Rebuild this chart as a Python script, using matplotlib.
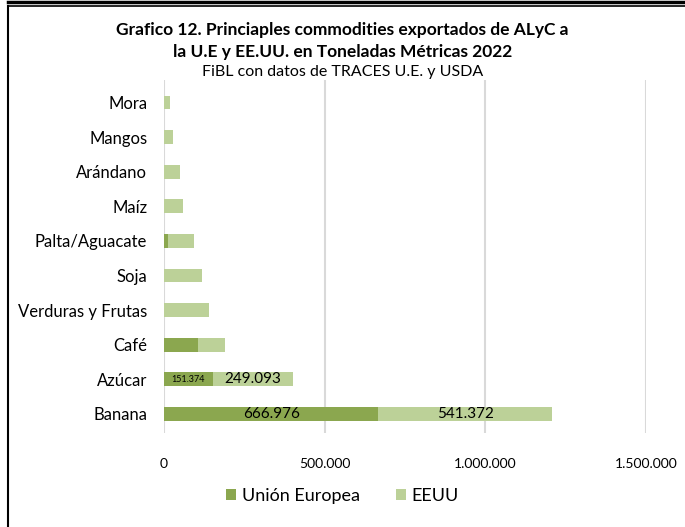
"""
Grafico 12 - commodities exportados de ALyC a la U.E y EE.UU. (2022)
"""

import matplotlib.pyplot as plt
from matplotlib.lines import Line2D

plt.rcParams['font.family'] = ['Lato', 'DejaVu Sans']

# Data (toneladas metricas)
categorias = ['Banana', 'Azúcar', 'Café', 'Verduras y Frutas', 'Soja',
              'Palta/Aguacate', 'Maíz', 'Arándano', 'Mangos', 'Mora']
ue = [666976, 151374, 107000, 0, 0, 11000, 0, 0, 0, 0]
eeuu = [541372, 249093, 83000, 140000, 119000, 83000, 58000, 49000, 28000, 19000]
ticks = [0, 500000, 1000000, 1500000]
tick_labels = ['0', '500.000', '1.000.000', '1.500.000']

# Colors
c_ue = '#8BA74F'
c_us = '#BCD198'
grid_gray = '#D9D9D9'

W, H = 685, 527
fig = plt.figure(figsize=(W / 100, H / 100), dpi=100)
ax = fig.add_axes([164 / W, 1 - 433 / H, (646 - 164) / W, (433 - 80) / H])

y = range(len(categorias))
ax.barh(y, ue, height=0.4, color=c_ue, label='Unión Europea')
ax.barh(y, eeuu, left=ue, height=0.4, color=c_us, label='EEUU')

# data labels on the big bars
ax.text(ue[0] / 2, 0, '666.976', ha='center', va='center', fontsize=11)
ax.text(ue[0] + eeuu[0] / 2, 0, '541.372', ha='center', va='center', fontsize=11)
ax.text(ue[1] / 2, 1, '151.374', ha='center', va='center', fontsize=6.5)
ax.text(ue[1] + eeuu[1] / 2, 1, '249.093', ha='center', va='center', fontsize=11)

ax.set_xlim(0, 1500000)
ax.set_ylim(-0.55, len(categorias) - 0.35)
ax.set_yticks(list(y))
ax.set_yticklabels(categorias, fontsize=12)
ax.set_xticks(ticks)
ax.set_xticklabels(tick_labels, fontsize=10)
ax.tick_params(length=0)
ax.tick_params(axis='y', pad=12)
ax.tick_params(axis='x', pad=18)
ax.grid(axis='x', color=grid_gray, linewidth=1.5)
ax.set_axisbelow(True)
for s in ax.spines.values():
    s.set_visible(False)

# Titles
fig.text(0.5, 1 - 30 / H, 'Grafico 12. Princiaples commodities exportados de ALyC a',
         ha='center', va='center', fontsize=12.5, fontweight='bold')
fig.text(0.5, 1 - 52 / H, 'la U.E y EE.UU. en Toneladas Métricas 2022',
         ha='center', va='center', fontsize=12.5, fontweight='bold')
fig.text(0.5, 1 - 72 / H, 'FiBL con datos de TRACES U.E. y USDA',
         ha='center', va='center', fontsize=11.5)

# Legend
ax.legend(loc='center', bbox_to_anchor=(0.5, 1 - 496 / H), bbox_transform=fig.transFigure,
          ncol=2, frameon=False, fontsize=13, handlelength=0.55, handleheight=0.55,
          handletextpad=0.3, columnspacing=2.0)

# Border lines
fig.add_artist(Line2D([8 / W, 1], [1 - 1.5 / H, 1 - 1.5 / H], color='black', linewidth=2.5))
fig.add_artist(Line2D([8 / W, 1], [1 - 5.5 / H, 1 - 5.5 / H], color='black', linewidth=1.2))
fig.add_artist(Line2D([8 / W, 8 / W], [0, 1 - 5.5 / H], color='black', linewidth=1.5))

fig.savefig('out.png', dpi=100)
